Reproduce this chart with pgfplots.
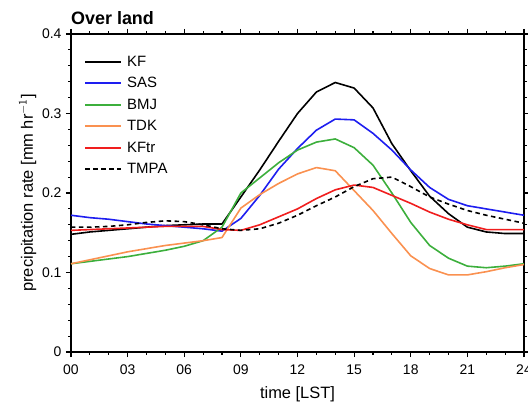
\documentclass[border=0pt]{standalone}
\usepackage{pgfplots}
\pgfplotsset{compat=1.18}
\usepackage{fontspec}
\setmainfont{Liberation Sans}
\definecolor{cSAS}{RGB}{30,30,240}
\definecolor{cBMJ}{RGB}{60,175,60}
\definecolor{cTDK}{RGB}{250,145,80}
\definecolor{cKFtr}{RGB}{240,30,30}
\begin{document}
\begin{tikzpicture}
\begin{axis}[
  at={(0,0)}, anchor=south west,
  scale only axis, width=453bp, height=318bp,
  xmin=0, xmax=24, ymin=0, ymax=0.4,
  xtick={0,3,6,9,12,15,18,21,24},
  xticklabels={00,03,06,09,12,15,18,21,24},
  ytick={0,0.1,0.2,0.3,0.4},
  yticklabels={0,0.1,0.2,0.3,0.4},
  minor x tick num=2, minor y tick num=4,
  tick pos=both, tick align=outside,
  major tick length=5bp, minor tick length=2.8bp,
  every tick/.style={black, line width=1.1bp},
  axis line style={line width=1.6bp},
  tick label style={font=\fontsize{14}{16}\selectfont},
  xticklabel style={yshift=-4bp},
  yticklabel style={xshift=-1bp},
  xlabel={time [LST]}, ylabel={precipitation rate [mm hr$^{\mathsf{-1}}$]},
  label style={font=\fontsize{16.5}{19}\selectfont},
  xlabel style={yshift=-5bp},
  ylabel style={yshift=-1bp},
  title={\textbf{Over land}},
  title style={font=\fontsize{18}{21}\selectfont, at={(0,1)}, anchor=south west, xshift=-1bp, yshift=2bp, inner sep=1bp},
  legend style={draw=none, fill=none, at={(0.022,0.947)}, anchor=north west,
    font=\fontsize{15}{18}\selectfont, row sep=3.5bp,
    nodes={inner sep=2bp, text height=11bp, text depth=3bp}},
  legend cell align=left,
  legend image code/.code={\draw[#1, line width=2.3bp] (0bp,0.25bp) -- (36bp,0.25bp); \path (39bp,0bp);},
  every axis plot/.append style={line width=1.6bp, line join=round},
]
\addplot[black] coordinates {(0,0.148)(1,0.151)(2,0.153)(3,0.155)(4,0.157)(5,0.159)(6,0.160)(7,0.161)(8,0.161)(9,0.195)(10,0.229)(11,0.265)(12,0.300)(13,0.327)(14,0.339)(15,0.332)(16,0.307)(17,0.262)(18,0.228)(19,0.196)(20,0.174)(21,0.157)(22,0.151)(23,0.149)(24,0.149)};
\addlegendentry{KF}
\addplot[cSAS] coordinates {(0,0.172)(1,0.169)(2,0.167)(3,0.164)(4,0.161)(5,0.159)(6,0.157)(7,0.155)(8,0.152)(9,0.168)(10,0.197)(11,0.230)(12,0.256)(13,0.279)(14,0.293)(15,0.292)(16,0.275)(17,0.254)(18,0.229)(19,0.207)(20,0.192)(21,0.184)(22,0.180)(23,0.176)(24,0.172)};
\addlegendentry{SAS}
\addplot[cBMJ] coordinates {(0,0.111)(1,0.114)(2,0.117)(3,0.120)(4,0.124)(5,0.128)(6,0.133)(7,0.140)(8,0.157)(9,0.200)(10,0.219)(11,0.238)(12,0.254)(13,0.264)(14,0.268)(15,0.257)(16,0.235)(17,0.200)(18,0.163)(19,0.134)(20,0.118)(21,0.108)(22,0.106)(23,0.108)(24,0.111)};
\addlegendentry{BMJ}
\addplot[cTDK] coordinates {(0,0.111)(1,0.116)(2,0.121)(3,0.126)(4,0.130)(5,0.134)(6,0.137)(7,0.140)(8,0.144)(9,0.181)(10,0.198)(11,0.212)(12,0.224)(13,0.232)(14,0.228)(15,0.203)(16,0.178)(17,0.149)(18,0.121)(19,0.105)(20,0.097)(21,0.097)(22,0.101)(23,0.106)(24,0.110)};
\addlegendentry{TDK}
\addplot[cKFtr] coordinates {(0,0.153)(1,0.154)(2,0.155)(3,0.156)(4,0.157)(5,0.158)(6,0.158)(7,0.158)(8,0.154)(9,0.153)(10,0.160)(11,0.170)(12,0.180)(13,0.193)(14,0.204)(15,0.210)(16,0.207)(17,0.197)(18,0.187)(19,0.176)(20,0.167)(21,0.160)(22,0.154)(23,0.154)(24,0.154)};
\addlegendentry{KFtr}
\addplot[black, dash pattern=on 4.5bp off 3.5bp] coordinates {(0,0.157)(1,0.157)(2,0.158)(3,0.160)(4,0.163)(5,0.165)(6,0.164)(7,0.160)(8,0.155)(9,0.153)(10,0.155)(11,0.162)(12,0.172)(13,0.184)(14,0.195)(15,0.208)(16,0.218)(17,0.220)(18,0.208)(19,0.195)(20,0.186)(21,0.178)(22,0.172)(23,0.167)(24,0.162)};
\addlegendentry{TMPA}
\end{axis}
\pgfresetboundingbox
\path[use as bounding box] (-71bp,-51bp) rectangle (457bp,352bp);
\end{tikzpicture}
\end{document}
